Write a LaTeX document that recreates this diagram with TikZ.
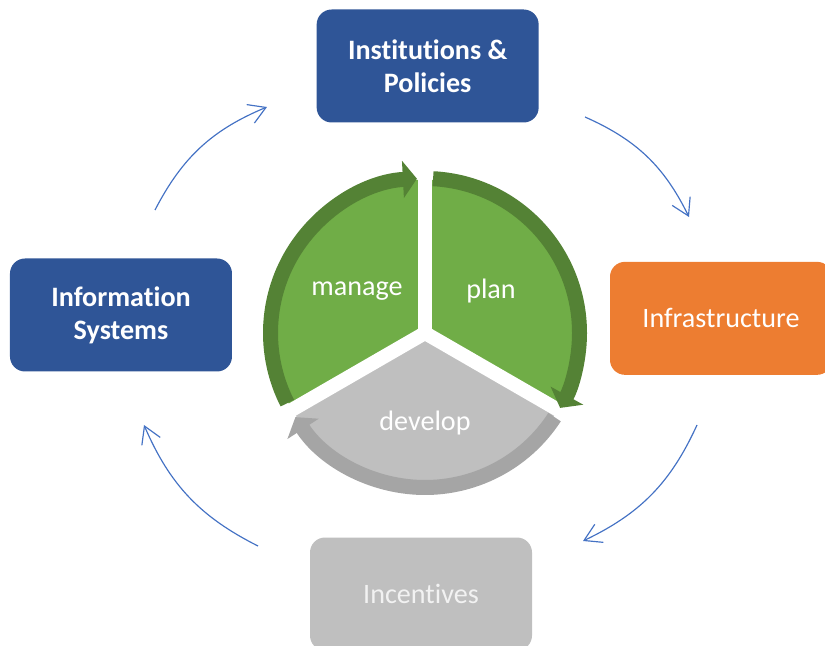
\documentclass[tikz,border=0pt]{standalone}
\usepackage{fontspec}
\setmainfont{Carlito}[Ligatures=NoCommon]
\usetikzlibrary{arrows.meta}

\definecolor{boxblue}{HTML}{2F5597}
\definecolor{boxorange}{HTML}{ED7D31}
\definecolor{boxgray}{HTML}{BFBFBF}
\definecolor{leaf}{HTML}{70AD47}
\definecolor{leafdark}{HTML}{548235}
\definecolor{stone}{HTML}{A5A5A5}
\definecolor{flow}{HTML}{4472C4}

\begin{document}
\begin{tikzpicture}[line cap=butt]
  \tikzset{
    pillar/.style={rounded corners=0.45cm, minimum width=6.66cm, minimum height=3.39cm,
      align=center, text=white, font=\fontsize{24}{28}\selectfont},
    phase/.style={text=white, font=\fontsize{24}{28}\selectfont},
    ring/.style={line width=0.45cm, -{Triangle[width=1.1cm,length=0.42cm]}},
    gap/.style={white, line width=0.42cm},
    cycle arrow/.style={flow, line width=1pt, -{Straight Barb[length=0.5cm,width=0.6cm]}, bend left=20}
  }
  \useasboundingbox (-12.75,-9.39) rectangle (12.0,9.99);
  % vier pijlers
  \node[pillar, fill=boxblue, font=\fontsize{24}{28}\selectfont\bfseries] (inst) at (0.08,8.01) {Institutions \&\\Policies};
  \node[pillar, fill=boxorange] (infra) at (8.88,0.44) {Infrastructure};
  \node[pillar, fill=boxgray, text=white!95!black] (incent) at (-0.12,-7.83) {Incentives};
  \node[pillar, fill=boxblue, font=\fontsize{24}{28}\selectfont\bfseries] (infosys) at (-9.12,0.54) {Information\\Systems};
  % sectoren
  \fill[leaf] (0,0) -- (90:4.6) arc (90:210:4.6) -- cycle;
  \fill[leaf] (0,0) -- (-30:4.6) arc (-30:90:4.6) -- cycle;
  \fill[boxgray] (0,0) -- (210:4.6) arc (210:330:4.6) -- cycle;
  \draw[gap] (0,0) -- (90:4.7);
  \draw[gap] (0,0) -- (210:4.7);
  \draw[gap] (0,0) -- (330:4.7);
  % ringpijlen
  \draw[ring, leafdark] (207:4.635) arc (207:93:4.635);
  \draw[ring, leafdark] (87:4.635) arc (87:-29:4.635);
  \draw[ring, stone] (-33:4.635) arc (-33:-147:4.635);
  \node[phase] (manage) at (-2.04,1.25) {manage};
  \node[phase] (plan) at (1.98,1.25) {plan};
  \node[phase] (develop) at (0,-2.7) {develop};
  % kringloop
  \coordinate (c1) at (-8.1,3.69);
  \coordinate (c2) at (-4.74,6.78);
  \coordinate (c3) at (4.8,6.48);
  \coordinate (c4) at (7.92,3.48);
  \coordinate (c5) at (8.16,-2.76);
  \coordinate (c6) at (4.74,-6.24);
  \coordinate (c7) at (-5.01,-6.39);
  \coordinate (c8) at (-8.43,-2.76);
  \draw[cycle arrow] (c1) to (c2);
  \draw[cycle arrow] (c3) to (c4);
  \draw[cycle arrow] (c5) to (c6);
  \draw[cycle arrow] (c7) to (c8);
\end{tikzpicture}
\end{document}
